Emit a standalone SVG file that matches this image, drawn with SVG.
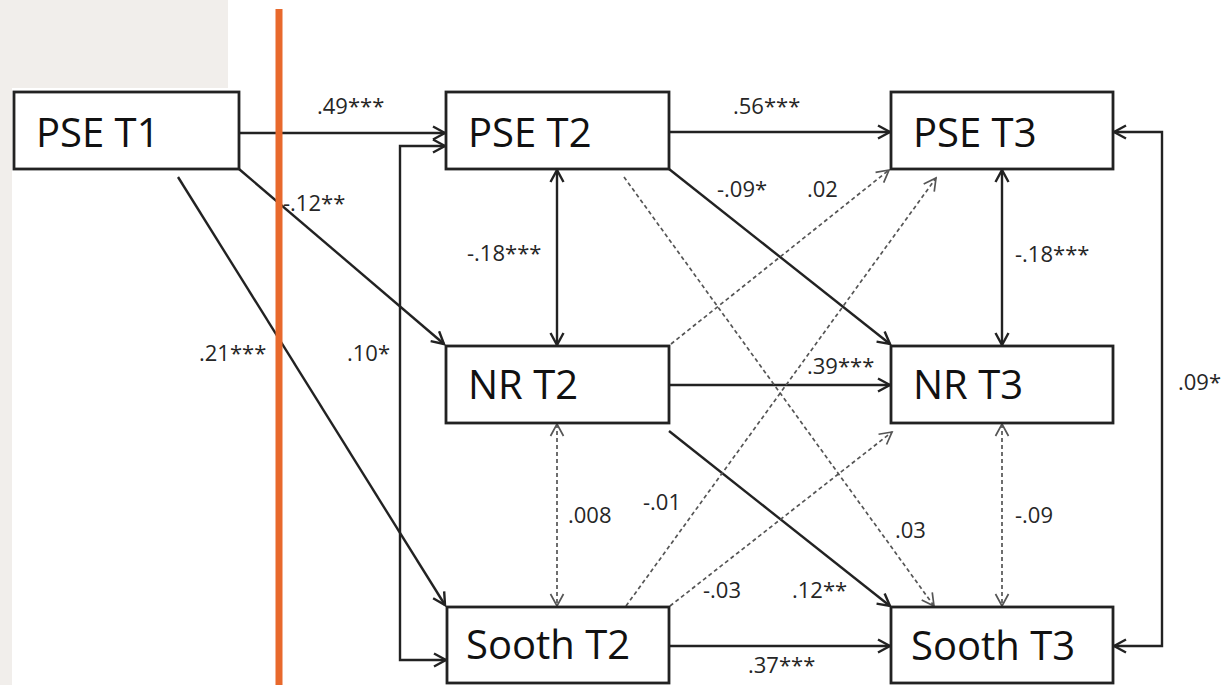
<svg xmlns="http://www.w3.org/2000/svg" width="1222" height="685" viewBox="0 0 1222 685">
  <defs>
    <style>
      .box { fill: #ffffff; stroke: #222222; stroke-width: 2.8; }
      .ntext { font-family: "Open Sans", "Liberation Sans", sans-serif; font-size: 40px; fill: #111111; }
      .lbl { font-family: "Open Sans", "Liberation Sans", sans-serif; font-size: 22px; fill: #262626; }
      .solid { fill: none; stroke: #222222; stroke-width: 2.4; }
      .dash { fill: none; stroke: #555555; stroke-width: 1.7; stroke-dasharray: 4 3; }
    </style>
    <marker id="ah" markerUnits="userSpaceOnUse" markerWidth="16" markerHeight="16" viewBox="0 0 16 16" refX="14" refY="8" orient="auto-start-reverse">
      <path d="M2,1.5 L14,8 L2,14.5" fill="none" stroke="#222222" stroke-width="2.4"/>
    </marker>
    <marker id="ahd" markerUnits="userSpaceOnUse" markerWidth="16" markerHeight="16" viewBox="0 0 16 16" refX="14" refY="8" orient="auto-start-reverse">
      <path d="M2,1.5 L14,8 L2,14.5" fill="none" stroke="#555555" stroke-width="1.7"/>
    </marker>
  </defs>

  <rect x="0" y="0" width="1222" height="685" fill="#ffffff"/>
  <rect x="0" y="0" width="228" height="685" fill="#f1eeeb"/>
  <rect x="12" y="88" width="216" height="597" fill="#ffffff"/>

  <g id="connectors">
    <line class="solid" x1="239" y1="133" x2="445" y2="133" marker-end="url(#ah)"/>
    <path class="solid" d="M446,660 L400,660 L400,146 L445,146" marker-start="url(#ah)" marker-end="url(#ah)"/>
    <line class="solid" x1="239" y1="169" x2="444" y2="344" marker-end="url(#ah)"/>
    <line class="solid" x1="178" y1="177" x2="445" y2="605" marker-end="url(#ah)"/>
    <line class="solid" x1="557" y1="170" x2="557" y2="345" marker-start="url(#ah)" marker-end="url(#ah)"/>
    <line class="solid" x1="669" y1="132" x2="890" y2="132" marker-end="url(#ah)"/>
    <line class="solid" x1="669" y1="169" x2="890" y2="344" marker-end="url(#ah)"/>
    <line class="solid" x1="669" y1="385" x2="890" y2="385" marker-end="url(#ah)"/>
    <line class="solid" x1="669" y1="431" x2="890" y2="606" marker-end="url(#ah)"/>
    <line class="solid" x1="1002" y1="170" x2="1002" y2="345" marker-start="url(#ah)" marker-end="url(#ah)"/>
    <line class="solid" x1="669" y1="646" x2="890" y2="646" marker-end="url(#ah)"/>
    <path class="solid" d="M1114,132 L1162,132 L1162,646 L1114,646" marker-start="url(#ah)" marker-end="url(#ah)"/>
    <line class="dash" x1="624" y1="177" x2="934" y2="606" marker-end="url(#ahd)"/>
    <line class="dash" x1="671" y1="344" x2="889" y2="170" marker-end="url(#ahd)"/>
    <line class="dash" x1="626" y1="606" x2="936" y2="178" marker-end="url(#ahd)"/>
    <line class="dash" x1="670" y1="606" x2="892" y2="432" marker-end="url(#ahd)"/>
    <line class="dash" x1="557" y1="424" x2="557" y2="606" marker-start="url(#ahd)" marker-end="url(#ahd)"/>
    <line class="dash" x1="1002" y1="424" x2="1002" y2="606" marker-start="url(#ahd)" marker-end="url(#ahd)"/>
  </g>

  <g id="labels">
    <text class="lbl" x="317" y="114">.49***</text>
    <text class="lbl" x="283" y="211">-.12**</text>
    <text class="lbl" x="199" y="361">.21***</text>
    <text class="lbl" x="347" y="361">.10*</text>
    <text class="lbl" x="467" y="261">-.18***</text>
    <text class="lbl" x="733" y="114">.56***</text>
    <text class="lbl" x="717" y="197">-.09*</text>
    <text class="lbl" x="807" y="197">.02</text>
    <text class="lbl" x="1015" y="262">-.18***</text>
    <text class="lbl" x="807" y="374">.39***</text>
    <text class="lbl" x="1178" y="390">.09*</text>
    <text class="lbl" x="568" y="523">.008</text>
    <text class="lbl" x="643" y="510">-.01</text>
    <text class="lbl" x="895" y="538">.03</text>
    <text class="lbl" x="1015" y="523">-.09</text>
    <text class="lbl" x="703" y="598">-.03</text>
    <text class="lbl" x="792" y="598">.12**</text>
    <text class="lbl" x="748" y="673">.37***</text>
  </g>

  <g id="PSE_T1">
    <rect class="box" x="14" y="92" width="225" height="77"/>
    <text class="ntext" x="36" y="147">PSE T1</text>
  </g>
  <g id="PSE_T2">
    <rect class="box" x="446" y="92" width="223" height="77"/>
    <text class="ntext" x="468" y="147">PSE T2</text>
  </g>
  <g id="PSE_T3">
    <rect class="box" x="891" y="92" width="222" height="77"/>
    <text class="ntext" x="913" y="147">PSE T3</text>
  </g>
  <g id="NR_T2">
    <rect class="box" x="446" y="346" width="223" height="77"/>
    <text class="ntext" x="468" y="399">NR T2</text>
  </g>
  <g id="NR_T3">
    <rect class="box" x="891" y="346" width="222" height="77"/>
    <text class="ntext" x="913" y="399">NR T3</text>
  </g>
  <g id="Sooth_T2">
    <rect class="box" x="447" y="607" width="222" height="76"/>
    <text class="ntext" x="466" y="659">Sooth T2</text>
  </g>
  <g id="Sooth_T3">
    <rect class="box" x="891" y="607" width="222" height="76"/>
    <text class="ntext" x="911" y="660">Sooth T3</text>
  </g>

  <line x1="279" y1="9" x2="279" y2="685" stroke="#e8692c" stroke-width="7"/>
</svg>
